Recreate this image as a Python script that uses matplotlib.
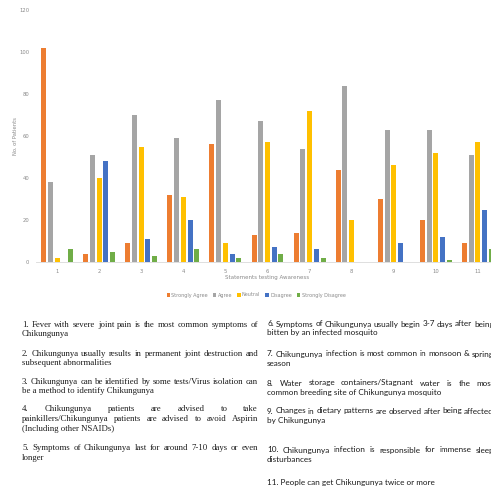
import matplotlib
matplotlib.use("Agg")
import matplotlib.pyplot as plt
import numpy as np

W, H = 491, 491
DPI = 100

categories = ["1", "2", "3", "4", "5", "6", "7", "8", "9", "10", "11"]
series_names = ["Strongly Agree", "Agree", "Neutral", "Disagree", "Strongly Disagree"]
strongly_agree = [102, 4, 9, 32, 56, 13, 14, 44, 30, 20, 9]
agree = [38, 51, 70, 59, 77, 67, 54, 84, 63, 63, 51]
neutral = [2, 40, 55, 31, 9, 57, 72, 20, 46, 52, 57]
disagree = [0, 48, 11, 20, 4, 7, 6, 0, 9, 12, 25]
strongly_disagree = [6, 5, 3, 6, 2, 4, 2, 0, 0, 1, 6]
colors = ["#ED7D31", "#A5A5A5", "#FFC000", "#4472C4", "#70AD47"]
y_ticks = [0, 20, 40, 60, 80, 100, 120]

left_paragraphs = [
    ["1. Fever with severe joint pain is the most common symptoms of", "Chikungunya"],
    ["2. Chikungunya usually results in permanent joint destruction and", "subsequent abnormalities"],
    ["3. Chikungunya can be identified by some tests/Virus isolation can", "be a method to identify Chikungunya"],
    ["4. Chikungunya patients are advised to take",
     "painkillers/Chikungunya patients are advised to avoid Aspirin",
     "(Including other NSAIDs)"],
    ["5. Symptoms of Chikungunya last for around 7-10 days or even", "longer"],
]
right_paragraphs = [
    ["6. Symptoms of Chikungunya usually begin 3-7 days after being", "bitten by an infected mosquito"],
    ["7. Chikungunya infection is most common in monsoon & spring", "season"],
    ["8. Water storage containers/Stagnant water is the most", "common breeding site of Chikungunya mosquito"],
    ["9. Changes in dietary patterns are observed after being affected", "by Chikungunya"],
    ["10. Chikungunya infection is responsible for immense sleep", "disturbances"],
    ["11. People can get Chikungunya twice or more"],
]
left_y = [[325, 334], [354, 363], [382, 391], [409, 419, 429], [448, 458]]
right_y = [[324, 333], [354, 363], [383, 393], [411, 421], [450, 460], [483]]

fig = plt.figure(figsize=(W / DPI, H / DPI), dpi=DPI)
fig.patch.set_facecolor("white")

ax_l, ax_r, ax_t, ax_b = 36, 499, 10, 262
ax = fig.add_axes([ax_l / W, 1 - ax_b / H, (ax_r - ax_l) / W, (ax_b - ax_t) / H])
x = np.arange(1, len(categories) + 1)
data = [strongly_agree, agree, neutral, disagree, strongly_disagree]
step = 0.16
bw = 0.12
for i, (vals, c, name) in enumerate(zip(data, colors, series_names)):
    ax.bar(x + (i - 2) * step, vals, width=bw, color=c, label=name, zorder=2)

ax.set_xlim(0.5, len(categories) + 0.5)
ax.set_ylim(0, 120)
ax.set_yticks(y_ticks)
ax.set_yticklabels([str(v) for v in y_ticks])
ax.set_xticks(x)
ax.set_xticklabels(categories)
for s in ["top", "right", "left"]:
    ax.spines[s].set_visible(False)
ax.spines["bottom"].set_color("#d9d9d9")
ax.spines["bottom"].set_linewidth(0.6)
ax.tick_params(axis="both", length=0, labelsize=3.8, colors="#8a8a8a")
ax.tick_params(axis="x", pad=5)
ax.tick_params(axis="y", pad=5)
ax.patch.set_alpha(0)

fig.text(16 / W, 1 - 136 / H, "No. of Patients", rotation=90, ha="center", va="center",
         fontsize=3.8, color="#8a8a8a")
fig.text(267 / W, 1 - 278 / H, "Statements testing Awareness", ha="center", va="center",
         fontsize=4.0, color="#8a8a8a")

handles, labels = ax.get_legend_handles_labels()
leg = fig.legend(handles, labels, loc="center", bbox_to_anchor=(256 / W, 1 - 295 / H),
                 ncol=5, fontsize=3.5, frameon=False, handlelength=0.7, handleheight=0.7,
                 handletextpad=0.3, columnspacing=1.0, labelcolor="#8a8a8a")

renderer = fig.canvas.get_renderer()


def fit_size(text, target, family):
    t = fig.text(0, 0, text, fontsize=10, family=family)
    w = t.get_window_extent(renderer).width
    t.remove()
    return 10 * target / w


def place_line(text, x0, x1, y, justify, **kw):
    words = text.split()
    if not justify or len(words) < 2:
        fig.text(x0 / W, 1 - y / H, text, ha="left", va="center", **kw)
        return
    objs = [fig.text(0, 1 - y / H, w, ha="left", va="center", **kw) for w in words]
    widths = [o.get_window_extent(renderer).width for o in objs]
    gap = (x1 - x0 - sum(widths)) / (len(words) - 1)
    xx = x0
    for o, w in zip(objs, widths):
        o.set_x(xx / W)
        xx += w + gap


L0, L1 = 22, 258
R0, R1 = 267, 494
lsize = min(fit_size(t, L1 - L0, "Liberation Serif")
            for t in [left_paragraphs[1][0], left_paragraphs[2][0], left_paragraphs[0][0]])
rsize = min(fit_size(t, R1 - R0, "Lato")
            for t in [right_paragraphs[3][0], right_paragraphs[0][0]])
left_kw = dict(fontsize=lsize, family="Liberation Serif", color="#1a1a1a")
right_kw = dict(fontsize=rsize, family="Lato", color="#1a1a1a")

for para, ys in zip(left_paragraphs, left_y):
    for j, (line, yy) in enumerate(zip(para, ys)):
        place_line(line, L0, L1, yy, j < len(para) - 1, **left_kw)

for para, ys in zip(right_paragraphs, right_y):
    for j, (line, yy) in enumerate(zip(para, ys)):
        place_line(line, R0, R1, yy, j < len(para) - 1, **right_kw)

fig.savefig("out.png", dpi=DPI)
